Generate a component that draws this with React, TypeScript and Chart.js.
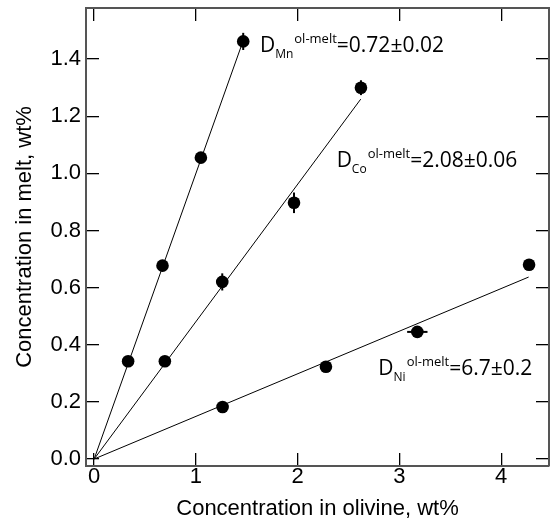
import React, { useEffect, useRef } from "react";
import { Chart, registerables } from "chart.js";

Chart.register(...registerables);

// Concentrations (wt%) in olivine (x) and coexisting melt (y)
const mnOlivine = [0.334, 0.672, 1.049, 1.465];
const mnMelt = [0.342, 0.677, 1.055, 1.462];
const mnMeltErr = [0, 0, 0, 0.03];

const coOlivine = [0.695, 1.259, 1.964, 2.622];
const coMelt = [0.342, 0.62, 0.897, 1.3];
const coMeltErr = [0, 0.03, 0.036, 0.026];

const niOlivine = [1.262, 2.278, 3.176, 4.274];
const niMelt = [0.182, 0.323, 0.445, 0.68];
const niOlivineErr = [0, 0, 0.1, 0];

// Fitted lines through the origin: [olivine, melt] end points
const mnFit = [[0, 0], [1.46, 1.46]];
const coFit = [[0, 0], [2.62, 1.26]];
const niFit = [[0, 0], [4.27, 0.637]];

const xTicks = [0, 1, 2, 3, 4];
const yTicks = [0, 0.2, 0.4, 0.6, 0.8, 1.0, 1.2, 1.4];

// Partition coefficient labels
const partitionLabels = [
  { el: "Mn", sup: "ol-melt", text: "=0.72±0.02", x: 1.629, y: 1.425 },
  { el: "Co", sup: "ol-melt", text: "=2.08±0.06", x: 2.383, y: 1.0235 },
  { el: "Ni", sup: "ol-melt", text: "=6.7±0.2", x: 2.793, y: 0.293 },
];

const toPoints = (xs: number[], ys: number[]) => xs.map((x, i) => ({ x, y: ys[i] }));
const toLine = (pts: number[][]) => pts.map(([x, y]) => ({ x, y }));

const errorBars = {
  id: "errorBars",
  afterDatasetsDraw(chart: any) {
    const { ctx, scales } = chart;
    const xs = scales.x;
    const ys = scales.y;
    ctx.save();
    ctx.strokeStyle = "#000";
    ctx.lineWidth = 2;
    chart.data.datasets.forEach((ds: any) => {
      if (!ds.errY && !ds.errX) return;
      ds.data.forEach((p: any, i: number) => {
        const px = xs.getPixelForValue(p.x);
        const py = ys.getPixelForValue(p.y);
        const ey = ds.errY ? ds.errY[i] : 0;
        const ex = ds.errX ? ds.errX[i] : 0;
        if (ey > 0) {
          ctx.beginPath();
          ctx.moveTo(px, ys.getPixelForValue(p.y - ey));
          ctx.lineTo(px, ys.getPixelForValue(p.y + ey));
          ctx.stroke();
        }
        if (ex > 0) {
          ctx.beginPath();
          ctx.moveTo(xs.getPixelForValue(p.x - ex), py);
          ctx.lineTo(xs.getPixelForValue(p.x + ex), py);
          ctx.stroke();
        }
      });
    });
    ctx.restore();
  },
};

const partitionText = {
  id: "partitionText",
  afterDraw(chart: any) {
    const { ctx, scales } = chart;
    const mainFont = "21px 'Open Sans', 'DejaVu Sans', sans-serif";
    const subFont = "12px 'Open Sans', 'DejaVu Sans', sans-serif";
    const supFont = "13px 'Open Sans', 'DejaVu Sans', sans-serif";
    ctx.save();
    ctx.fillStyle = "#000";
    ctx.textBaseline = "alphabetic";
    ctx.textAlign = "left";
    partitionLabels.forEach((l) => {
      let x = scales.x.getPixelForValue(l.x);
      const y = scales.y.getPixelForValue(l.y);
      ctx.font = mainFont;
      ctx.fillText("D", x, y);
      x += ctx.measureText("D").width;
      ctx.font = subFont;
      ctx.fillText(l.el, x, y + 6);
      x += ctx.measureText(l.el).width + 1;
      ctx.font = supFont;
      ctx.fillText(l.sup, x, y - 9);
      x += ctx.measureText(l.sup).width;
      ctx.font = mainFont;
      ctx.fillText(l.text, x, y);
    });
    ctx.restore();
  },
};

const tickFont = { family: "'Liberation Sans', Arial, Helvetica, sans-serif", size: 22 };
const borderStyle = { display: true, color: "#555", width: 2 };
const innerTicks = {
  drawOnChartArea: false,
  drawTicks: true,
  tickLength: -13,
  color: "#000",
  lineWidth: 1.3,
};

// Fix an axis box to a given thickness and drop label overhang padding
const fixSize = (key: "width" | "height", size: number) => (s: any) => {
  s[key] = size;
  s.paddingTop = 0;
  s.paddingBottom = 0;
  s.paddingLeft = 0;
  s.paddingRight = 0;
};

export default function App() {
  const ref = useRef<HTMLCanvasElement>(null);

  useEffect(() => {
    if (!ref.current) return;
    const pointStyle = {
      type: "scatter" as const,
      showLine: false,
      pointRadius: 6.3,
      pointHoverRadius: 6.3,
      backgroundColor: "#000",
      borderWidth: 0,
    };
    const lineStyle = {
      type: "scatter" as const,
      showLine: true,
      pointRadius: 0,
      borderColor: "#000",
      borderWidth: 1,
      fill: false,
    };
    const chart = new Chart(ref.current, {
      type: "scatter",
      data: {
        datasets: [
          { ...lineStyle, label: "Mn fit", data: toLine(mnFit) },
          { ...lineStyle, label: "Co fit", data: toLine(coFit) },
          { ...lineStyle, label: "Ni fit", data: toLine(niFit) },
          { ...pointStyle, label: "Mn", data: toPoints(mnOlivine, mnMelt), errY: mnMeltErr } as any,
          { ...pointStyle, label: "Co", data: toPoints(coOlivine, coMelt), errY: coMeltErr } as any,
          { ...pointStyle, label: "Ni", data: toPoints(niOlivine, niMelt), errX: niOlivineErr } as any,
        ],
      },
      options: {
        responsive: false,
        animation: false,
        devicePixelRatio: 1,
        layout: { padding: 0, autoPadding: false },
        plugins: {
          legend: { display: false },
          tooltip: { enabled: false },
        },
        scales: {
          x: {
            type: "linear",
            position: "bottom",
            min: -0.08,
            max: 4.47,
            afterBuildTicks: (s: any) => {
              s.ticks = xTicks.map((value) => ({ value }));
            },
            afterFit: fixSize("height", 60),
            grid: innerTicks,
            border: borderStyle,
            ticks: {
              font: tickFont,
              color: "#000",
              padding: 11,
              maxRotation: 0,
              callback: (v: any) => String(v),
            },
            title: {
              display: true,
              text: "Concentration in olivine, wt%",
              font: tickFont,
              color: "#000",
              padding: { top: 0, bottom: 4 },
            },
          },
          x2: {
            type: "linear",
            position: "top",
            min: -0.08,
            max: 4.47,
            afterBuildTicks: (s: any) => {
              s.ticks = xTicks.map((value) => ({ value }));
            },
            afterFit: fixSize("height", 8),
            grid: innerTicks,
            border: borderStyle,
            ticks: { display: false },
          },
          y: {
            type: "linear",
            position: "left",
            min: -0.0245,
            max: 1.579,
            afterBuildTicks: (s: any) => {
              s.ticks = yTicks.map((value) => ({ value }));
            },
            afterFit: fixSize("width", 86),
            grid: innerTicks,
            border: borderStyle,
            ticks: {
              font: tickFont,
              color: "#000",
              padding: 18,
              callback: (v: any) => Number(v).toFixed(1),
            },
            title: {
              display: true,
              text: "Concentration in melt, wt%",
              font: tickFont,
              color: "#000",
              padding: { top: 12, bottom: 0 },
            },
          },
          y2: {
            type: "linear",
            position: "right",
            min: -0.0245,
            max: 1.579,
            afterBuildTicks: (s: any) => {
              s.ticks = yTicks.map((value) => ({ value }));
            },
            afterFit: fixSize("width", 1),
            grid: innerTicks,
            border: borderStyle,
            ticks: { display: false },
          },
        },
      } as any,
      plugins: [errorBars, partitionText],
    });
    return () => chart.destroy();
  }, []);

  return (
    <canvas
      ref={ref}
      width={550}
      height={526}
      style={{ position: "absolute", left: 0, top: 0, width: 550, height: 526, display: "block" }}
    />
  );
}
